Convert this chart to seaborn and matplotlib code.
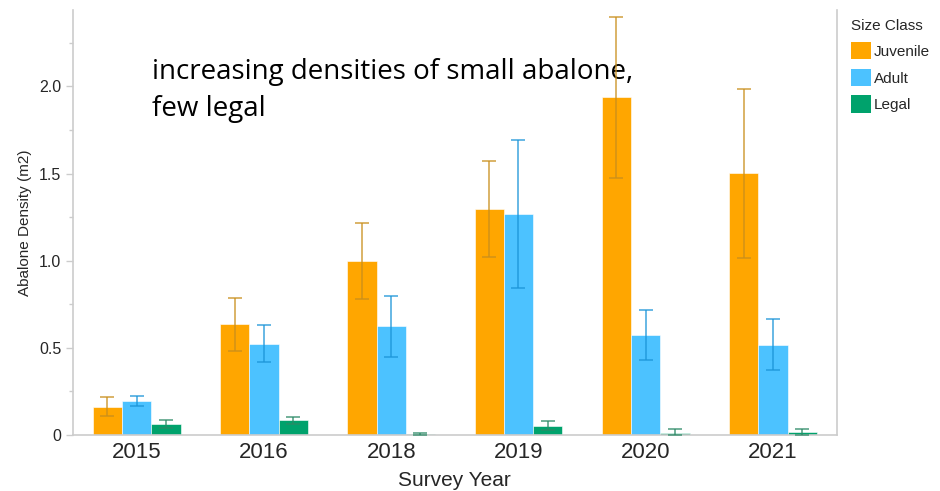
import matplotlib
matplotlib.use("Agg")
import matplotlib.pyplot as plt
from matplotlib.ticker import MultipleLocator
from matplotlib.patches import Patch
import seaborn as sns
import pandas as pd

years = ["2015", "2016", "2018", "2019", "2020", "2021"]
size_classes = ["Juvenile", "Adult", "Legal"]
juvenile = [0.163, 0.638, 0.999, 1.298, 1.940, 1.503]
juvenile_lo = [0.109, 0.483, 0.782, 1.020, 1.476, 1.016]
juvenile_hi = [0.217, 0.786, 1.215, 1.570, 2.396, 1.986]
adult = [0.196, 0.525, 0.625, 1.269, 0.575, 0.518]
adult_lo = [0.167, 0.420, 0.449, 0.844, 0.430, 0.372]
adult_hi = [0.224, 0.629, 0.800, 1.695, 0.719, 0.663]
legal = [0.065, 0.086, 0.005, 0.053, 0.013, 0.017]
legal_lo = [0.038, 0.063, 0.002, 0.029, 0.001, 0.003]
legal_hi = [0.088, 0.105, 0.009, 0.080, 0.033, 0.036]

bar_colors = ["#FFA600", "#4CC2FF", "#00A26C"]
err_colors = ["#C98F1C", "#1C95D8", "#2C8A66"]

means = {"Juvenile": juvenile, "Adult": adult, "Legal": legal}
lows = {"Juvenile": juvenile_lo, "Adult": adult_lo, "Legal": legal_lo}
highs = {"Juvenile": juvenile_hi, "Adult": adult_hi, "Legal": legal_hi}

rows = []
for c in size_classes:
    for i, y in enumerate(years):
        rows.append({"Year": y, "Size Class": c, "Density": means[c][i]})
df = pd.DataFrame(rows)

sns.set_style("white")
plt.rcParams["font.family"] = ["Liberation Sans", "DejaVu Sans"]

fig = plt.figure(figsize=(9.4, 4.91), dpi=100)
ax = fig.add_axes([0.0777, 0.114, 0.8123, 0.866])

sns.barplot(data=df, x="Year", y="Density", hue="Size Class", order=years,
            hue_order=size_classes, palette=bar_colors, width=0.69,
            errorbar=None, ax=ax, legend=False, saturation=1,
            edgecolor="white", linewidth=0.4)

# error bars positioned from the bar patches (one patch per hue level per year)
patches = list(ax.patches)
k = 0
for ci, c in enumerate(size_classes):
    for i, y in enumerate(years):
        p = patches[k]
        k += 1
        xc = p.get_x() + p.get_width() / 2
        m = means[c][i]
        ax.errorbar([xc], [m], yerr=[[m - lows[c][i]], [highs[c][i] - m]],
                    fmt="none", ecolor=err_colors[ci], elinewidth=1.1,
                    capsize=5, capthick=1.1, alpha=0.85, zorder=5)

ax.set_xlim(-0.5, 5.5)
ax.set_ylim(0, 2.44)
ax.yaxis.set_minor_locator(MultipleLocator(0.25))
ax.set_yticks([0, 0.5, 1.0, 1.5, 2.0])
ax.set_yticklabels(["0", "0.5", "1.0", "1.5", "2.0"], fontsize=11.5)
ax.tick_params(axis="y", which="major", length=5, color="#CCCCCC", width=1, left=True)
ax.tick_params(axis="y", which="minor", length=3, color="#CCCCCC", width=1, left=True)
ax.tick_params(axis="x", length=0, labelsize=16, pad=5)

for s in ["left", "bottom", "right"]:
    ax.spines[s].set_visible(True)
    ax.spines[s].set_color("#CCCCCC")
    ax.spines[s].set_linewidth(1.2)
ax.spines["top"].set_visible(False)

ax.set_xlabel("Survey Year", fontsize=15, labelpad=6)
ax.set_ylabel("Abalone Density (m2)", fontsize=11, labelpad=5)

ax.text(0.104, 0.81, "increasing densities of small abalone,\nfew legal",
        transform=ax.transAxes, fontsize=20, family=["Open Sans", "DejaVu Sans"],
        color="black", va="center", ha="left", linespacing=1.4)

handles = [Patch(facecolor=col, edgecolor="none") for col in bar_colors]
fig.legend(handles, size_classes, title="Size Class", loc="upper left",
           bbox_to_anchor=(0.891, 0.99), frameon=False, fontsize=11,
           title_fontsize=11, handlelength=1.3, handleheight=1.4,
           handletextpad=0.2, labelspacing=0.6, alignment="left")

fig.savefig("out.png", dpi=100)
